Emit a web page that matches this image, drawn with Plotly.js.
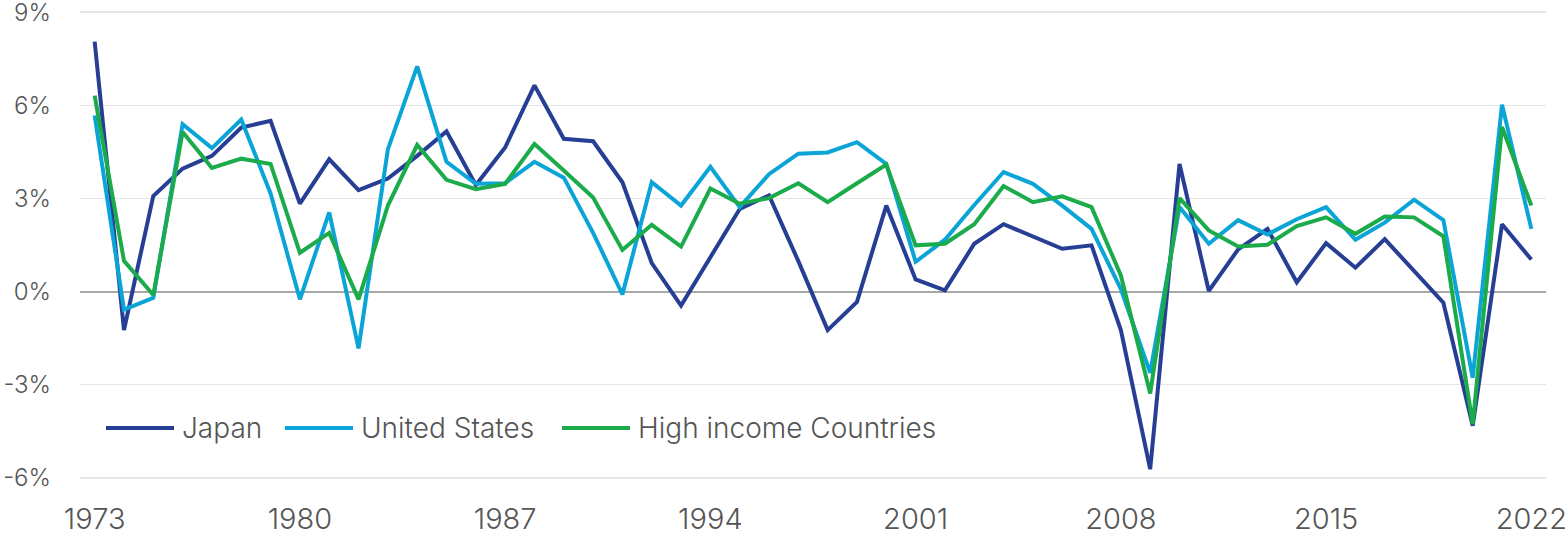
<!DOCTYPE html>
<html>
<head>
<meta charset="utf-8">
<script src="https://cdn.plot.ly/plotly-3.0.1.min.js"></script>
<style>
  html, body { margin: 0; padding: 0; background: #fff; }
  #graph { width: 1568px; height: 536px; }
</style>
</head>
<body>
<div id="graph"></div>
<script>
// ---------- DATA ----------
const years = [];
for (let y = 1973; y <= 2022; y++) years.push(y);

const japan = [
  8.05, -1.24, 3.08, 3.96, 4.37, 5.28, 5.50, 2.83, 4.26, 3.27,
  3.64, 4.37, 5.16, 3.43, 4.64, 6.64, 4.92, 4.84, 3.52, 0.92,
  -0.45, 1.12, 2.66, 3.10, 0.98, -1.24, -0.33, 2.77, 0.39, 0.04,
  1.54, 2.17, 1.78, 1.38, 1.49, -1.24, -5.72, 4.11, 0.02, 1.36,
  2.02, 0.30, 1.56, 0.77, 1.69, 0.68, -0.36, -4.32, 2.17, 1.03
];

const unitedStates = [
  5.67, -0.58, -0.20, 5.39, 4.62, 5.54, 3.16, -0.25, 2.55, -1.83,
  4.58, 7.25, 4.18, 3.47, 3.49, 4.18, 3.67, 1.89, -0.09, 3.52,
  2.77, 4.02, 2.72, 3.78, 4.44, 4.48, 4.81, 4.11, 0.96, 1.67,
  2.79, 3.85, 3.47, 2.77, 2.02, 0.08, -2.62, 2.72, 1.54, 2.30,
  1.84, 2.33, 2.72, 1.67, 2.22, 2.96, 2.30, -2.78, 6.02, 2.02
];

const highIncome = [
  6.31, 0.99, -0.11, 5.14, 3.98, 4.28, 4.11, 1.25, 1.89, -0.25,
  2.77, 4.72, 3.60, 3.30, 3.47, 4.75, 3.90, 3.03, 1.34, 2.15,
  1.45, 3.32, 2.83, 3.01, 3.49, 2.88, 3.49, 4.09, 1.49, 1.54,
  2.17, 3.40, 2.88, 3.07, 2.72, 0.52, -3.28, 3.01, 1.97, 1.45,
  1.51, 2.11, 2.39, 1.86, 2.42, 2.39, 1.78, -4.27, 5.30, 2.77
];

const xTicks = [1973, 1980, 1987, 1994, 2001, 2008, 2015, 2022];
const yTicks = [-6, -3, 0, 3, 6, 9];
const yTickText = ["-6%", "-3%", "0%", "3%", "6%", "9%"];

const seriesNames = ["Japan", "United States", "High income Countries"];
const seriesColors = ["#263f95", "#0ba4d6", "#1bab4b"];

// ---------- DRAW ----------
const FONT = "Inter, 'Open Sans', sans-serif";
const values = [japan, unitedStates, highIncome];

const traces = values.map((v, i) => ({
  x: years,
  y: v,
  name: seriesNames[i],
  type: "scatter",
  mode: "lines",
  line: { color: seriesColors[i], width: 4, shape: "linear" },
  hoverinfo: "x+y+name"
}));

// custom legend (long line samples like the original)
const legendX = [106, 285, 562];   // px from page left
const legendY = 428;
const plotL = 80, plotR = 22, plotT = 9, plotB = 55;
const plotW = 1568 - plotL - plotR;
const plotH = 536 - plotT - plotB;
const px2x = px => (px - plotL) / plotW;
const px2y = py => (536 - plotB - py) / plotH;

const shapes = [], annotations = [];
seriesNames.forEach((name, i) => {
  shapes.push({
    type: "line", xref: "paper", yref: "paper",
    x0: px2x(legendX[i]), x1: px2x(legendX[i] + 68),
    y0: px2y(legendY), y1: px2y(legendY),
    line: { color: seriesColors[i], width: 4 }
  });
  annotations.push({
    xref: "paper", yref: "paper",
    x: px2x(legendX[i] + 74), y: px2y(legendY),
    xanchor: "left", yanchor: "middle",
    text: name, showarrow: false,
    font: { family: FONT, size: 28, color: "#555555", weight: 300 }
  });
});

const layout = {
  width: 1568,
  height: 536,
  margin: { l: plotL, r: plotR, t: plotT, b: plotB },
  paper_bgcolor: "#ffffff",
  plot_bgcolor: "#ffffff",
  showlegend: false,
  font: { family: FONT, size: 26, color: "#555555", weight: 300 },
  xaxis: {
    type: "linear",
    range: [1972.5, 2022.5],
    tickvals: xTicks,
    ticktext: xTicks.map(String),
    showgrid: false,
    zeroline: false,
    showline: false,
    ticks: "",
    ticklabelstandoff: 18,
    ticklabeloverflow: "allow",
    tickfont: { family: FONT, size: 29, color: "#555555", weight: 300 }
  },
  yaxis: {
    range: [-6.1, 9.1],
    tickvals: yTicks,
    ticktext: yTickText,
    showgrid: true,
    gridcolor: "#e6e6e6",
    gridwidth: 1.5,
    zeroline: true,
    zerolinecolor: "#a8a8a8",
    zerolinewidth: 2,
    showline: false,
    ticks: "",
    ticklabelstandoff: 28,
    ticklabeloverflow: "allow",
    tickfont: { family: FONT, size: 24, color: "#555555", weight: 300 }
  },
  shapes: shapes,
  annotations: annotations
};

Plotly.newPlot("graph", traces, layout, { displayModeBar: false, staticPlot: true });
</script>
</body>
</html>
